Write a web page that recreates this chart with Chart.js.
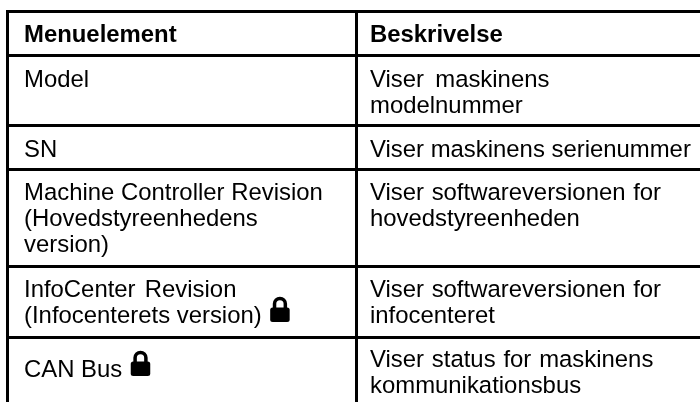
<!DOCTYPE html>
<html><head><meta charset="utf-8">
<style>html,body{margin:0;padding:0;background:#fff}#w{width:700px;height:402px;position:relative}canvas{display:block}</style>
<script src="https://cdn.jsdelivr.net/npm/chart.js@4"></script>
</head><body><div id="w"><canvas id="c" width="700" height="402"></canvas></div>
<script>
const columnHeaders = ["Menuelement", "Beskrivelse"];
const menuItems = [
  ["Model"],
  ["SN"],
  ["Machine Controller Revision", "(Hovedstyreenhedens", "version)"],
  ["InfoCenter Revision", "(Infocenterets version)"],
  ["CAN Bus"]
];
const descriptions = [
  ["Viser maskinens", "modelnummer"],
  ["Viser maskinens serienummer"],
  ["Viser softwareversionen for", "hovedstyreenheden"],
  ["Viser softwareversionen for", "infocenteret"],
  ["Viser status for maskinens", "kommunikationsbus"]
];
const lockedRows = [3, 4];
const rowEdges = [11.5, 55.5, 125.5, 169.5, 266.5, 337.5];
const columnEdges = [7.5, 356.5];
const columnTextX = [24, 370];
const lineHeight = 26;
const firstBaseline = [30, 31, 31.5, 30, 30.5, 29.5];
const lockLineDrop = {4: 10};
const wordGaps = {
  "Viser maskinens": 4.6, "InfoCenter Revision": 2.6,
  "Viser status for maskinens": 1.2, "Viser softwareversionen for": 1
};
const fontSize = 23.9;
const fontFamily = '"Liberation Sans", Arial, sans-serif';

function linePoints(lines, col, row, bold, drop) {
  return lines.map((text, i) => ({
    x: columnTextX[col],
    y: rowEdges[row] + firstBaseline[row] + i * lineHeight + (drop || 0),
    text, bold,
    lock: !bold && col === 0 && lockedRows.includes(row - 1) && i === lines.length - 1
  }));
}
const cellPoints = [];
columnHeaders.forEach((h, c) => cellPoints.push(...linePoints([h], c, 0, true)));
menuItems.forEach((l, r) => cellPoints.push(...linePoints(l, 0, r + 1, false, lockLineDrop[r] || 0)));
descriptions.forEach((l, r) => cellPoints.push(...linePoints(l, 1, r + 1, false)));

function drawLock(ctx, x, baseline) {
  const bw = 19.5, bh = 14.4, bottom = baseline - 1, top = bottom - bh;
  const arcY = bottom - 18.2, radius = 5.4;
  ctx.save();
  ctx.fillStyle = '#000'; ctx.strokeStyle = '#000';
  ctx.beginPath(); ctx.roundRect(x, top, bw, bh, 2.5); ctx.fill();
  ctx.lineWidth = 3.5;
  ctx.beginPath();
  ctx.moveTo(x + bw / 2 - radius, top + 1);
  ctx.lineTo(x + bw / 2 - radius, arcY);
  ctx.arc(x + bw / 2, arcY, radius, Math.PI, 0);
  ctx.lineTo(x + bw / 2 + radius, top + 1);
  ctx.stroke();
  ctx.restore();
}
const cellText = {
  id: 'cellText',
  afterDatasetsDraw(chart) {
    const { ctx, scales: { x, y } } = chart;
    ctx.save();
    ctx.fillStyle = '#000';
    ctx.textBaseline = 'alphabetic';
    chart.data.datasets[0].data.forEach(p => {
      ctx.font = (p.bold ? 'bold ' : '') + fontSize + 'px ' + fontFamily;
      ctx.wordSpacing = (wordGaps[p.text] || 0) + 'px';
      const px = x.getPixelForValue(p.x), py = y.getPixelForValue(p.y);
      ctx.fillText(p.text, px, py);
      if (p.lock) drawLock(ctx, px + ctx.measureText(p.text).width + 8.5, py);
    });
    ctx.restore();
  }
};
const grid = { color: '#000', lineWidth: 3, drawTicks: false, offset: false };
new Chart(document.getElementById('c'), {
  type: 'scatter',
  data: { datasets: [{ data: cellPoints, pointRadius: 0, pointHoverRadius: 0 }] },
  options: {
    responsive: false, animation: false, events: [],
    layout: { padding: { left: 6, top: 10, right: 0, bottom: 0 } },
    plugins: { legend: { display: false }, tooltip: { enabled: false } },
    scales: {
      x: { type: 'linear', min: 6, max: 700, grid, border: { display: false }, ticks: { display: false },
           afterBuildTicks: s => { s.ticks = columnEdges.map(value => ({ value })); } },
      y: { type: 'linear', reverse: true, min: 10, max: 402, grid, border: { display: false }, ticks: { display: false },
           afterBuildTicks: s => { s.ticks = rowEdges.map(value => ({ value })); } }
    }
  },
  plugins: [cellText]
});
</script></body></html>
